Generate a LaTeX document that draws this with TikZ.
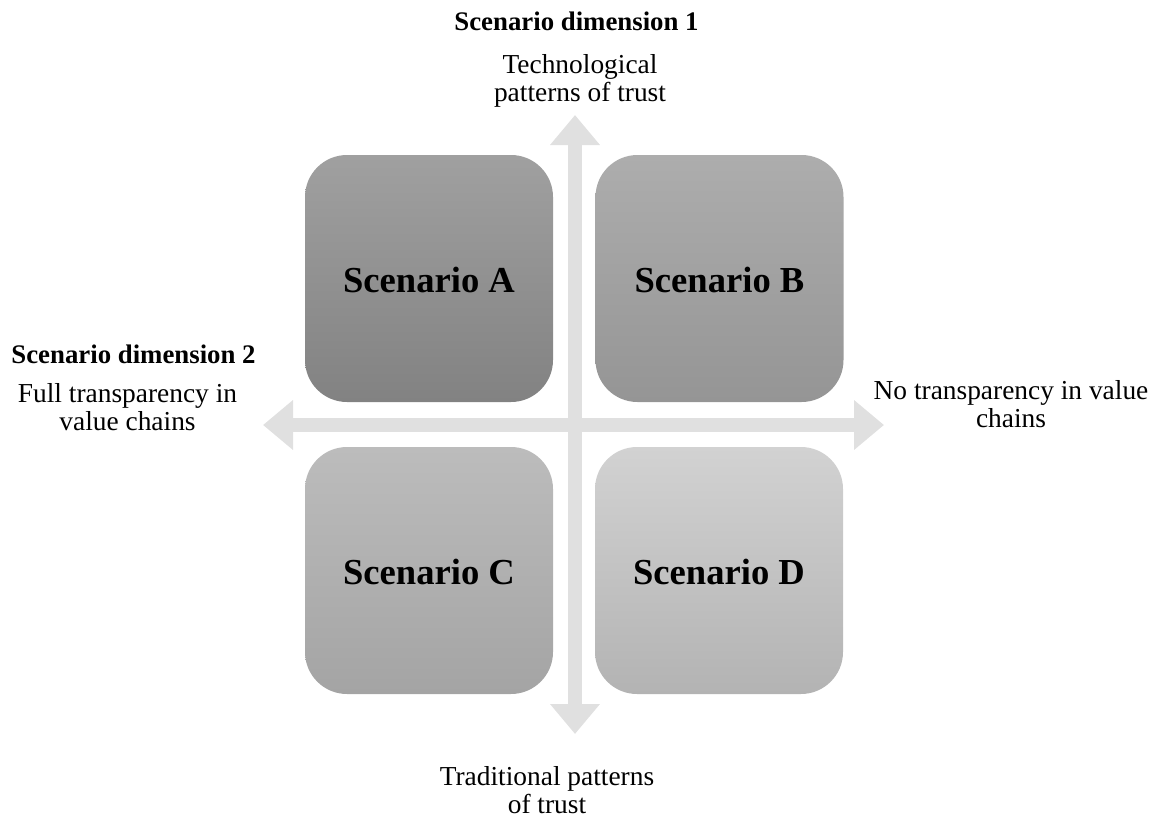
\documentclass[tikz,border=0pt]{standalone}
\usepackage{fontspec}
\setmainfont{Liberation Serif}
\usetikzlibrary{arrows.meta}

\definecolor{axisgray}{HTML}{E0E0E0}
\definecolor{aTop}{HTML}{A0A0A0}\definecolor{aBot}{HTML}{828282}
\definecolor{bTop}{HTML}{ADADAD}\definecolor{bBot}{HTML}{959595}
\definecolor{cTop}{HTML}{BCBCBC}\definecolor{cBot}{HTML}{A4A4A4}
\definecolor{dTop}{HTML}{D2D2D2}\definecolor{dBot}{HTML}{B3B3B3}

\begin{document}
\begin{tikzpicture}[x=0.5pt,y=-0.5pt,
  axis/.style={draw=axisgray, line width=7pt,
    {Triangle[width=24pt,length=15pt]}-{Triangle[width=24pt,length=15pt]}},
  scenbox/.style={rounded corners=21pt, minimum width=124pt, minimum height=123.5pt,
    inner sep=0pt, text height=13.5pt, text depth=0pt,
    font=\fontsize{18.3}{20}\selectfont\bfseries},
  heading/.style={inner sep=0pt, font=\fontsize{13.4}{14}\selectfont\bfseries},
  pole/.style={inner sep=0pt, align=center, font=\fontsize{13.7}{14}\selectfont}]

\useasboundingbox (0,0) rectangle (1156,819);

% axis end points
\coordinate (ntip) at (575,115);
\coordinate (stip) at (575,734);
\coordinate (wtip) at (263,425);
\coordinate (etip) at (884,425);

% the two axes
\draw[axis] (stip) -- (ntip);
\draw[axis] (wtip) -- (etip);

% the four scenarios
\node[scenbox, top color=aTop, bottom color=aBot] (A) at (429,278.5) {Scenario A};
\node[scenbox, top color=bTop, bottom color=bBot] (B) at (719.5,278.5) {Scenario B};
\node[scenbox, top color=cTop, bottom color=cBot] (C) at (429,570.5) {Scenario C};
\node[scenbox, top color=dTop, bottom color=dBot] (D) at (719,570.5) {Scenario D};

% dimension headings
\node[heading, anchor=base] (dim1) at (576.5,30) {Scenario dimension 1};
\node[heading, anchor=base west] (dim2) at (11,363) {Scenario dimension 2};

% poles of the axes
\node[pole] (north) at (580,81) {Technological\\patterns of trust};
\node[pole] (south) at (547,790) {Traditional patterns\\of trust};
\node[pole] (west) at (127.5,407) {Full transparency in\\value chains};
\node[pole] (east) at (1011,404) {No transparency in value\\chains};

\end{tikzpicture}
\end{document}
